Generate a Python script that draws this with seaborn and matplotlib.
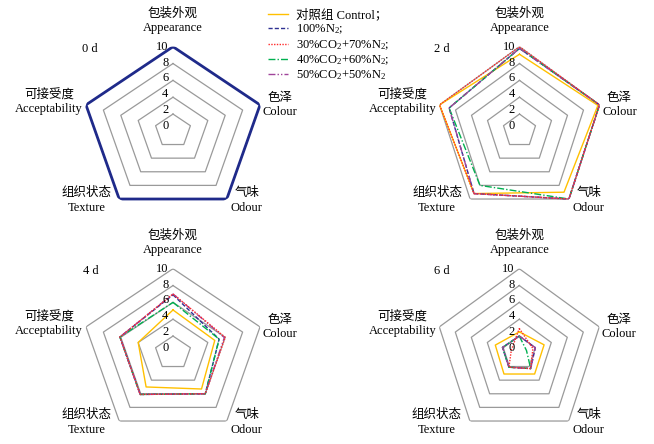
import numpy as np
import pandas as pd
import matplotlib
matplotlib.use('Agg')
import matplotlib.pyplot as plt
import seaborn as sns

#==========================================================================
#data
#==========================================================================
attributes = ['包装外观\nAppearance', '色泽\nColour', '气味\nOdour',
              '组织状态\nTexture', '可接受度\nAcceptability']
groups = ['对照组 Control；', '100%N$_2$;', '30%CO$_2$+70%N$_2$;',
          '40%CO$_2$+60%N$_2$;', '50%CO$_2$+50%N$_2$']
ring_levels = [2, 4, 6, 8, 10]
tick_values = [10, 8, 6, 4, 2, 0]
day_labels = ['0 d', '2 d', '4 d', '6 d']

# day 0: every treatment starts at full score
day0_all = [10, 10, 10, 10, 10]

# order: Appearance, Colour, Odour, Texture, Acceptability
day2_control = [9.1, 9.8, 9.0, 9.2, 10.0]
day2_n2      = [9.8, 10.0, 10.0, 9.2, 8.8]
day2_co2_30  = [10.0, 10.0, 10.0, 9.2, 10.0]
day2_co2_40  = [9.8, 10.0, 10.0, 8.0, 8.8]
day2_co2_50  = [9.8, 10.0, 10.0, 9.2, 8.8]

day4_control = [5.1, 4.8, 5.3, 5.0, 4.0]
day4_n2      = [6.9, 5.3, 6.0, 6.1, 6.1]
day4_co2_30  = [7.0, 6.0, 6.0, 6.1, 6.1]
day4_co2_40  = [6.0, 5.3, 6.0, 6.1, 6.1]
day4_co2_50  = [7.0, 5.9, 6.0, 6.1, 6.1]

day6_control = [2.5, 3.1, 3.1, 3.1, 3.0]
day6_n2      = [2.0, 2.0, 2.3, 2.1, 2.1]
day6_co2_30  = [2.9, 1.7, 2.3, 2.1, 1.0]
day6_co2_40  = [2.0, 0.9, 2.3, 2.1, 2.1]
day6_co2_50  = [2.0, 2.0, 2.3, 2.1, 2.1]

colors = ['#FFC000', '#2E3192', '#FF2A2A', '#00B050', '#A0449A']
styles = ['-', (0, (3, 1.5)), (0, (1, 1)), (0, (5, 1.5, 1, 1.5)),
          (0, (5, 1.5, 1, 1.5, 1, 1.5))]
draw_order = [0, 1, 3, 4, 2]   # red on top

plt.rcParams['font.family'] = ['Liberation Serif', 'Noto Sans CJK SC']
plt.rcParams['mathtext.fontset'] = 'custom'
plt.rcParams['mathtext.rm'] = 'Liberation Serif'
plt.rcParams['mathtext.it'] = 'Liberation Serif:italic'
FS = 9

angles = np.deg2rad([0, 72, 144, 216, 288])
theta = np.append(angles, angles[0])

W, H = 654, 444
fig = plt.figure(figsize=(6.54, 4.44), dpi=100)

# label offsets in pixels (dx right, dy down)
label_offsets = [(0, -26), (20, 0), (20, 1.5), (-33, 1.5), (-37, -3)]


def make_panel(cx, cy, rx, ry):
    ax = fig.add_axes([(cx - rx) / W, (H - cy - ry) / H, 2 * rx / W, 2 * ry / H],
                      projection='polar')
    ax.set_aspect('auto')
    ax.set_theta_zero_location('N')
    ax.set_theta_direction(-1)
    ax.set_ylim(0, 10)
    ax.grid(False)
    ax.set_xticks([])
    ax.set_yticks([])
    ax.spines['polar'].set_visible(False)
    ax.patch.set_visible(False)
    for lvl in ring_levels:
        ax.plot(theta, [lvl] * len(theta), color='#9a9a9a', lw=0.9, zorder=1)
    for v in tick_values:
        ax.annotate(str(v), (0, v), xytext=(-4.5 * 0.72, (0.5 * (10 - v)) * 0.72),
                    textcoords='offset points', ha='right', va='center',
                    fontsize=FS, zorder=5)
    for a, lab, (dx, dy) in zip(angles, attributes, label_offsets):
        ax.annotate(lab, (a, 10), xytext=(dx * 0.72, -dy * 0.72),
                    textcoords='offset points', ha='center', va='center',
                    fontsize=FS, multialignment='center', linespacing=1.25)
    return ax


def draw_series(ax, series, with_labels=False):
    for i in draw_order:
        vals = list(series[i]) + [series[i][0]]
        df = pd.DataFrame({'theta': theta, 'score': vals})
        sns.lineplot(data=df, x='theta', y='score', ax=ax, sort=False,
                     estimator=None, color=colors[i], linestyle=styles[i],
                     lw=1.0, label=groups[i] if with_labels else None, zorder=3)
    if ax.get_legend() is not None:
        ax.get_legend().remove()
    ax.set_xlabel('')
    ax.set_ylabel('')
    ax.set_xticks([])
    ax.set_yticks([])


ax0 = make_panel(173, 130.9, 91.5, 84.2)
df0 = pd.DataFrame({'theta': theta, 'score': day0_all + [day0_all[0]]})
sns.lineplot(data=df0, x='theta', y='score', ax=ax0, sort=False, estimator=None,
             color='#1F2A8A', lw=2.0, zorder=3)
ax0.set_xlabel(''); ax0.set_ylabel(''); ax0.set_xticks([]); ax0.set_yticks([])

ax2 = make_panel(519.5, 130.9, 84.1, 84.2)
draw_series(ax2, [day2_control, day2_n2, day2_co2_30, day2_co2_40, day2_co2_50],
            with_labels=True)

ax4 = make_panel(173, 352.9, 91.5, 84.2)
draw_series(ax4, [day4_control, day4_n2, day4_co2_30, day4_co2_40, day4_co2_50])

ax6 = make_panel(519.3, 352.9, 84.1, 84.2)
draw_series(ax6, [day6_control, day6_n2, day6_co2_30, day6_co2_40, day6_co2_50])

# day labels
for (x, y), lab in zip([(90, 49), (442, 49), (91, 271), (442, 271)], day_labels):
    fig.text(x / W, 1 - y / H, lab, fontsize=FS, ha='center', va='center')

# legend in group order
handles, labels = ax2.get_legend_handles_labels()
lookup = dict(zip(labels, handles))
fig.legend([lookup[g] for g in groups], groups, loc='upper left',
           bbox_to_anchor=(268 / W, 1 - 8.5 / H), frameon=False, fontsize=FS,
           handlelength=1.6, handletextpad=0.6, labelspacing=0.13,
           borderpad=0, borderaxespad=0)

fig.savefig('out.png', dpi=100)
